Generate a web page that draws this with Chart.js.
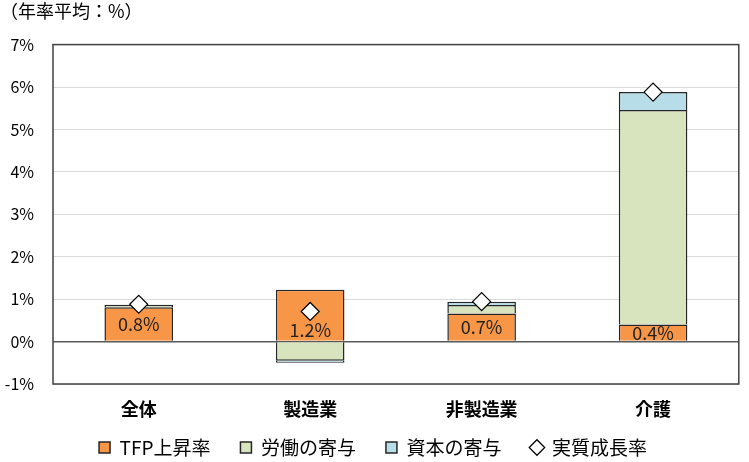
<!DOCTYPE html>
<html>
<head>
<meta charset="utf-8">
<script src="https://cdn.jsdelivr.net/npm/chart.js@4"></script>
<style>
  html, body { margin: 0; padding: 0; background: #fff; overflow: hidden; }
  #wrap { width: 749px; height: 462px; }
</style>
</head>
<body>
<div id="wrap"><canvas id="growthChart"></canvas></div>
<script>
// categories and series (annual average, %)
const categories = ['全体', '製造業', '非製造業', '介護'];
const tfpRate = [0.81, 1.22, 0.66, 0.40];
const laborContrib = [0.05, -0.45, 0.20, 5.06];
const capitalContrib = [0.01, -0.05, 0.08, 0.42];
const realGrowth = [0.88, 0.71, 0.94, 5.88];
const yTicks = [-1, 0, 1, 2, 3, 4, 5, 6, 7];

const FONT = '"Noto Sans CJK JP", "Noto Sans", sans-serif';

document.addEventListener('DOMContentLoaded', () => {
    // draws a box around the plot area
    const frame = {
        id: 'frame',
        afterDraw(chart) {
            const a = chart.chartArea;
            const ctx = chart.ctx;
            ctx.save();
            ctx.strokeStyle = '#404040';
            ctx.lineWidth = 1.5;
            ctx.strokeRect(a.left, a.top, a.right - a.left, a.bottom - a.top);
            ctx.restore();
        }
    };

    // value labels on the TFP bars
    const tfpLabels = {
        id: 'tfpLabels',
        afterDatasetsDraw(chart, args, opts) {
            const meta = chart.getDatasetMeta(0);
            const ctx = chart.ctx;
            ctx.save();
            ctx.font = '18px ' + FONT;
            ctx.fillStyle = '#222';
            ctx.textAlign = 'center';
            ctx.textBaseline = 'middle';
            meta.data.forEach((bar, i) => {
                let y = (bar.y + bar.base) / 2;
                if (opts.anchor[i] === 'base') y = bar.base - 11;
                ctx.fillText(tfpRate[i].toFixed(1) + '%', bar.x, y);
            });
            ctx.restore();
        }
    };

    const ctx = document.getElementById('growthChart').getContext('2d');

    const chartData = {
        labels: categories,
        datasets: [
            {
                type: 'bar',
                label: 'TFP上昇率',
                data: tfpRate,
                backgroundColor: '#F79646',
                borderColor: '#262626',
                borderWidth: 1.5,
                pointStyle: 'rect',
                order: 2
            },
            {
                type: 'bar',
                label: '労働の寄与',
                data: laborContrib,
                backgroundColor: '#D7E4BD',
                borderColor: '#262626',
                borderWidth: 1.5,
                pointStyle: 'rect',
                order: 2
            },
            {
                type: 'bar',
                label: '資本の寄与',
                data: capitalContrib,
                backgroundColor: '#B7DEE8',
                borderColor: '#262626',
                borderWidth: 1.5,
                pointStyle: 'rect',
                order: 2
            },
            {
                type: 'line',
                label: '実質成長率',
                data: realGrowth,
                showLine: false,
                pointStyle: 'rectRot',
                pointRadius: 9,
                pointBackgroundColor: '#fff',
                pointBorderColor: '#000',
                pointBorderWidth: 1.2,
                backgroundColor: '#fff',
                borderColor: '#000',
                stack: 'growth',
                order: 1
            }
        ]
    };

    const chartOptions = {
        responsive: true,
        maintainAspectRatio: false,
        animation: false,
        layout: { padding: { left: 0, right: 3, top: 0, bottom: 0 } },
        datasets: {
            bar: { barPercentage: 0.4, categoryPercentage: 1.0 }
        },
        scales: {
            x: {
                stacked: true,
                grid: { display: false },
                border: { display: false },
                // labels hang below the plot; let the legend sit close under them
                afterFit(axis) {
                    axis.height = 24;
                    axis._computeLabelArea = () => undefined;
                },
                ticks: {
                    color: '#000',
                    font: { family: FONT, size: 18, weight: 'bold' },
                    padding: 6
                }
            },
            y: {
                stacked: true,
                min: -1,
                max: 7,
                afterBuildTicks(axis) {
                    axis.ticks = yTicks.map(v => ({ value: v }));
                },
                afterFit(axis) { axis.width = 53; },
                grid: {
                    color: c => (c.tick && c.tick.value === 0) ? '#595959' : '#d9d9d9',
                    lineWidth: c => (c.tick && c.tick.value === 0) ? 1.5 : 1,
                    drawTicks: false
                },
                border: { display: false },
                ticks: {
                    color: '#000',
                    font: { family: FONT, size: 16 },
                    padding: 19,
                    callback: v => v + '%'
                }
            }
        },
        plugins: {
            title: {
                display: true,
                text: '（年率平均：%）',
                align: 'start',
                color: '#000',
                font: { family: FONT, size: 18, weight: 'normal' },
                padding: { top: 0, bottom: 23 }
            },
            legend: {
                position: 'bottom',
                maxHeight: 54,
                labels: {
                    usePointStyle: true,
                    boxWidth: 11,
                    boxHeight: 11,
                    padding: 30,
                    color: '#000',
                    font: { family: FONT, size: 19 },
                    sort: (a, b) => a.datasetIndex - b.datasetIndex
                }
            },
            tooltip: { enabled: false },
            tfpLabels: { anchor: ['center', 'base', 'center', 'center'] }
        }
    };

    new Chart(ctx, {
        data: chartData,
        options: chartOptions,
        plugins: [frame, tfpLabels]
    });
});
</script>
</body>
</html>
